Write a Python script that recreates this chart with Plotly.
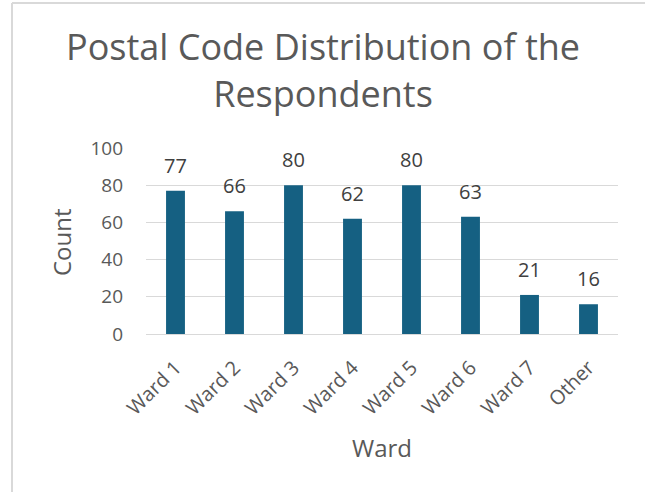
import plotly.graph_objects as go

categories = ["Ward 1", "Ward 2", "Ward 3", "Ward 4", "Ward 5", "Ward 6", "Ward 7", "Other"]
counts = [77, 66, 80, 62, 80, 63, 21, 16]
y_ticks = [0, 20, 40, 60, 80, 100]
title_lines = ["Postal Code Distribution of the", "Respondents"]
x_title = "Ward"
y_title = "Count"

FONT = "Open Sans"
W, H = 645, 492
L, R, T, B = 146, 27, 148, 158
pw = W - L - R
ph = H - T - B


def px(xp):
    return (xp - L) / pw


def py(yp):
    return (H - B - yp) / ph


fig = go.Figure(go.Bar(
    x=categories, y=counts,
    marker=dict(color="#156082", line=dict(width=0)),
    hoverinfo="x+y",
))

for c, v in zip(categories, counts):
    fig.add_annotation(x=c, y=v, xref="x", yref="y", text=str(v), showarrow=False,
                       yanchor="bottom", yshift=10,
                       font=dict(family=FONT, size=20, color="#404040"))

fig.update_layout(
    width=W, height=H,
    margin=dict(l=L, r=R, t=T, b=B, autoexpand=False),
    paper_bgcolor="white", plot_bgcolor="white",
    bargap=0.68, showlegend=False,
    font=dict(family=FONT, color="#595959"),
    xaxis=dict(tickangle=-45, tickfont=dict(size=20, color="#595959"),
               showgrid=False, showline=False, ticks="", ticklabelstandoff=17),
    yaxis=dict(range=[0, 100], tickvals=y_ticks, tickfont=dict(size=19, color="#595959"),
               showgrid=True, gridcolor="#d9d9d9", gridwidth=1,
               zeroline=True, zerolinecolor="#d9d9d9", zerolinewidth=1,
               showline=False, ticks="", ticklabelstandoff=22),
)

# title
fig.add_annotation(xref="paper", yref="paper", x=px(323), y=py(70), text="<br>".join(title_lines),
                   showarrow=False, xanchor="center", yanchor="middle", align="center",
                   font=dict(family=FONT, size=36, color="#595959"))
# axis titles
fig.add_annotation(xref="paper", yref="paper", x=px(61), y=py(242), text=y_title, textangle=-90,
                   showarrow=False, xanchor="center", yanchor="middle",
                   font=dict(family=FONT, size=24, color="#595959"))
fig.add_annotation(xref="paper", yref="paper", x=px(382), y=py(447), text=x_title,
                   showarrow=False, xanchor="center", yanchor="middle",
                   font=dict(family=FONT, size=24, color="#595959"))

# chart border (light gray frame, left and top visible)
bx = px(12)
by = py(3)
fig.add_shape(type="line", xref="paper", yref="paper", x0=bx, x1=bx, y0=-2, y1=by,
              line=dict(color="#d9d9d9", width=2))
fig.add_shape(type="line", xref="paper", yref="paper", x0=bx, x1=2, y0=by, y1=by,
              line=dict(color="#d9d9d9", width=2))

fig.write_html("out.html", config={"displayModeBar": False},
               post_script="document.body.style.margin='0';")
